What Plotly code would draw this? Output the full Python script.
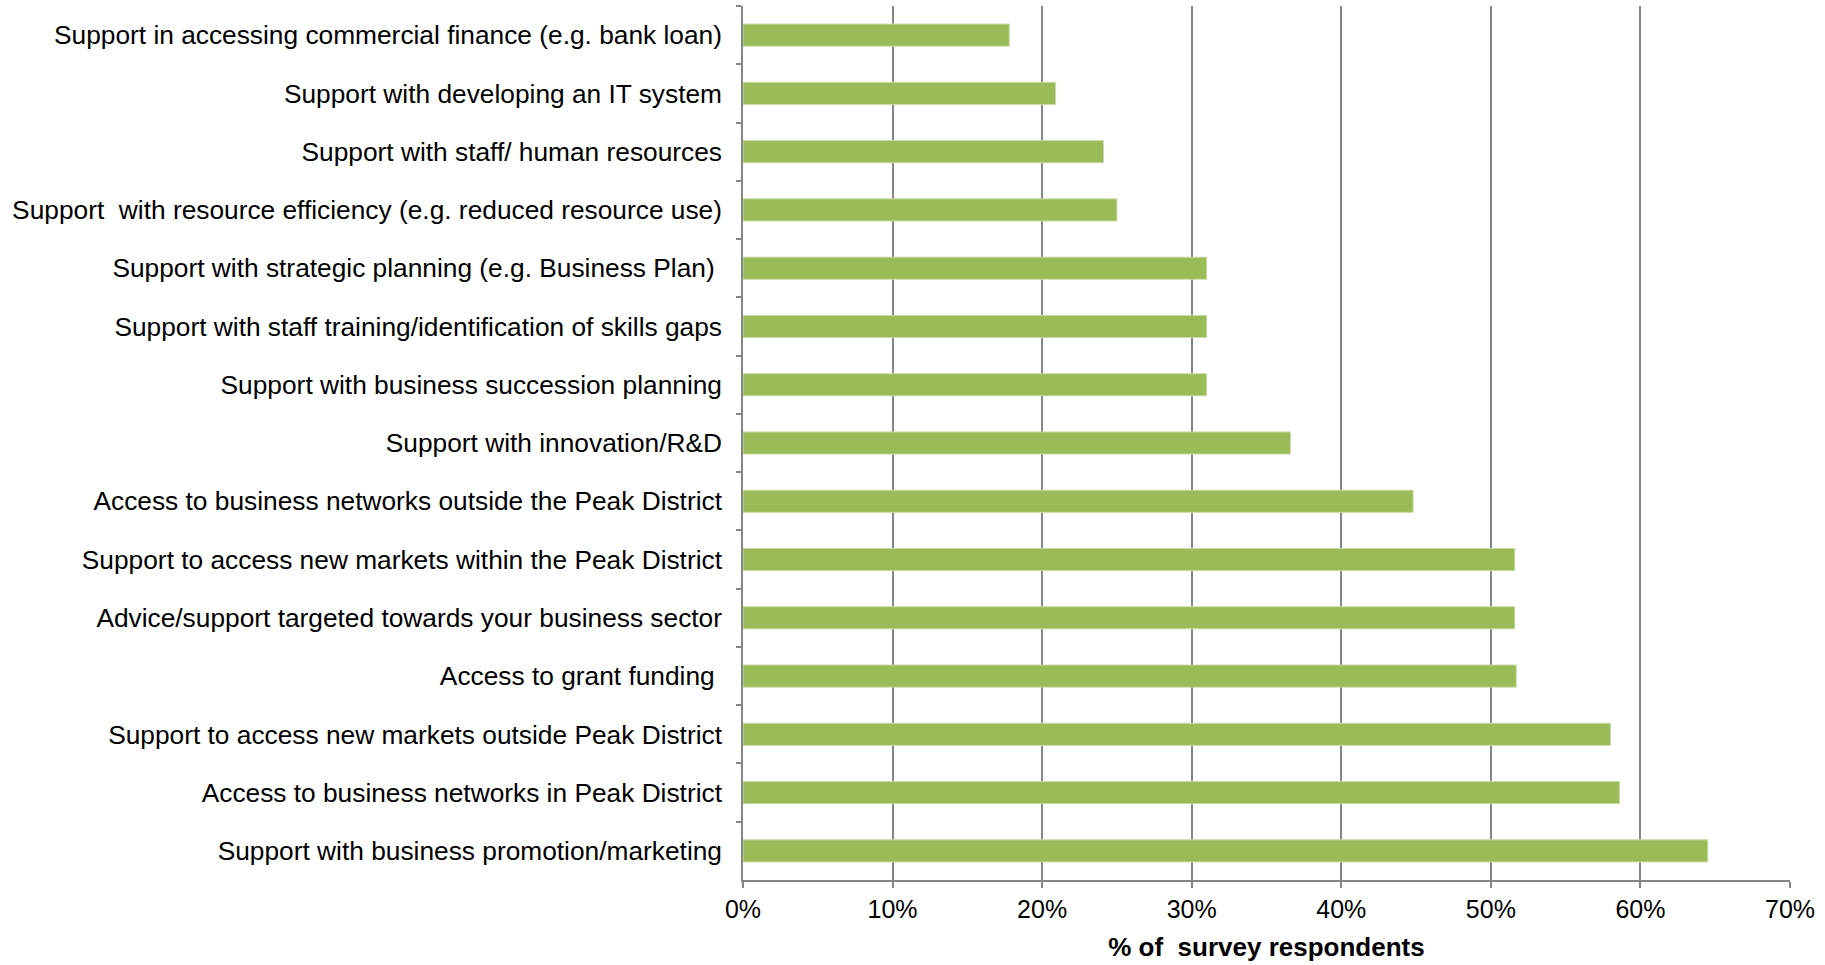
import plotly.graph_objects as go

# Business support needs, listed top to bottom
categories = [
    "Support in accessing commercial finance (e.g. bank loan)",
    "Support with developing an IT system",
    "Support with staff/ human resources",
    "Support\u00a0 with resource efficiency (e.g. reduced resource use)",
    "Support with strategic planning (e.g. Business Plan)\u00a0",
    "Support with staff training/identification of skills gaps",
    "Support with business succession planning",
    "Support with innovation/R&D",
    "Access to business networks outside the Peak District",
    "Support to access new markets within the Peak District",
    "Advice/support targeted towards your business sector",
    "Access to grant funding\u00a0",
    "Support to access new markets outside Peak District",
    "Access to business networks in Peak District",
    "Support with business promotion/marketing",
]

# Share of survey respondents (fraction)
shares = [
    0.178, 0.209, 0.241, 0.250, 0.310, 0.310, 0.310, 0.366,
    0.448, 0.516, 0.516, 0.517, 0.580, 0.586, 0.645,
]

x_ticks = [0, 0.1, 0.2, 0.3, 0.4, 0.5, 0.6, 0.7]
x_title = "% of\u00a0 survey respondents"

GREEN = "#9BBB59"
GRID = "#868686"
FONT = "Liberation Sans, Arial, sans-serif"

fig = go.Figure(
    go.Bar(
        x=shares,
        y=categories,
        orientation="h",
        marker=dict(color=GREEN, line=dict(color="#C9DBA3", width=1)),
        width=0.38,
        hoverinfo="x+y",
    )
)

fig.update_layout(
    width=1825,
    height=965,
    margin=dict(l=743, r=35, t=6, b=85),
    paper_bgcolor="white",
    plot_bgcolor="white",
    showlegend=False,
    font=dict(family=FONT, size=26, color="black"),
)

fig.update_xaxes(
    range=[0, 0.7],
    tickvals=x_ticks,
    tickformat=".0%",
    showgrid=True,
    gridcolor=GRID,
    gridwidth=1.5,
    zeroline=False,
    showline=True,
    linecolor=GRID,
    linewidth=1.5,
    ticks="outside",
    ticklen=6,
    tickcolor=GRID,
    tickwidth=1.5,
    tickfont=dict(size=25),
    title=dict(text=f"<b>{x_title}</b>", font=dict(size=26), standoff=16),
)

fig.update_yaxes(
    autorange="reversed",
    type="category",
    showgrid=False,
    showline=True,
    linecolor=GRID,
    linewidth=1.5,
    ticks="outside",
    tickson="boundaries",
    ticklen=5,
    tickcolor=GRID,
    tickwidth=1.5,
    tickfont=dict(size=26.3),
    ticklabelstandoff=14,
)

fig.write_html("out.html")
